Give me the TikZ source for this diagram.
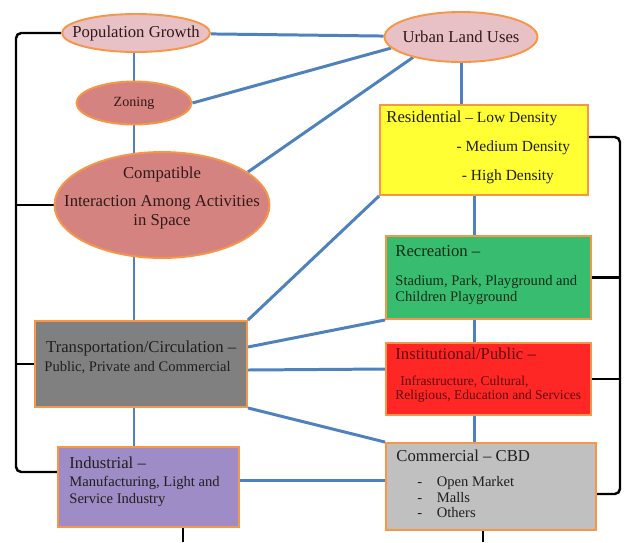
\documentclass[tikz,border=0pt]{standalone}
\usepackage{fontspec}
\setmainfont{Liberation Serif}
\usetikzlibrary{shapes.geometric,backgrounds}

\definecolor{edge}{RGB}{247,150,70}
\definecolor{link}{RGB}{79,129,189}
\definecolor{ovallight}{RGB}{231,193,197}
\definecolor{ovaldark}{RGB}{213,131,129}
\definecolor{resfill}{RGB}{255,255,51}
\definecolor{recfill}{RGB}{56,188,112}
\definecolor{insfill}{RGB}{255,38,38}
\definecolor{trafill}{RGB}{128,128,128}
\definecolor{comfill}{RGB}{192,192,192}
\definecolor{indfill}{RGB}{158,140,198}
\definecolor{inkdark}{RGB}{50,25,25}
\definecolor{inkred}{RGB}{95,10,10}
\definecolor{inkgreen}{RGB}{15,45,25}

\newcommand{\hdfont}{\fontsize{9.5}{9.1}\selectfont}

\tikzset{
  oval/.style={ellipse, draw=edge, line width=1.1pt, inner sep=0pt},
  panel/.style={rectangle, draw=edge, line width=1.1pt, inner sep=0pt},
  words/.style={inner sep=0pt, anchor=north west, align=left, text=black!88,
    font=\fontsize{8.3}{9.1}\selectfont},
  ovaltext/.style={text=inkdark, font=\fontsize{9.5}{11}\selectfont},
  link/.style={draw=link, line width=1.7pt},
  rail/.style={draw=black, line width=1.4pt, rounded corners=3pt},
}

\begin{document}
\begin{tikzpicture}[x=0.02cm, y=-0.02cm]
  \useasboundingbox (0,0) rectangle (625,542);

  \node[oval, fill=ovallight, minimum width=2.96cm, minimum height=0.76cm,
    label={[ovaltext]center:Population Growth}] (pop) at (136,33) {};
  \node[oval, fill=ovallight, minimum width=3.06cm, minimum height=1cm,
    label={[ovaltext]center:Urban Land Uses}] (urb) at (461,37) {};
  \node[oval, fill=ovaldark, minimum width=2.3cm, minimum height=0.86cm,
    label={[ovaltext, font=\fontsize{8}{9}\selectfont]center:Zoning}] (zon) at (134,103) {};
  \node[oval, fill=ovaldark, minimum width=4.3cm, minimum height=2.12cm] (cmp) at (162,205) {};
  \node[ovaltext, inner sep=0pt, align=center, font=\fontsize{9.5}{10.8}\selectfont]
    (cmp-t) at ([shift={(0,-7)}]cmp.center) {Compatible\\[5.1pt]Interaction Among Activities\\in Space};

  \node[panel, fill=resfill, minimum width=4.16cm, minimum height=1.8cm] (res) at (484,150) {};
  \node[panel, fill=recfill, minimum width=4.1cm, minimum height=1.66cm] (rec) at (488.5,277.5) {};
  \node[panel, fill=insfill, minimum width=4.1cm, minimum height=1.44cm] (ins) at (488.5,379) {};
  \node[panel, fill=comfill, minimum width=4.2cm, minimum height=1.74cm] (com) at (491,486.5) {};
  \node[panel, fill=trafill, minimum width=4.24cm, minimum height=1.72cm] (tra) at (141,364) {};
  \node[panel, fill=indfill, minimum width=3.62cm, minimum height=1.6cm] (ind) at (148.5,487) {};

  \node[words, font=\fontsize{8.8}{9.2}\selectfont] (res-t) at ([shift={(7,7)}]res.north west)
    {{\hdfont Residential} -- Low Density\\[7.2pt]\hspace*{40pt}- Medium Density\\[7pt]\hspace*{43pt}- High Density};
  \node[words, text=inkgreen] (rec-t) at ([shift={(10,10)}]rec.north west)
    {{\hdfont Recreation --}\\[7.3pt]Stadium, Park, Playground and\\Children Playground};
  \node[words, text=inkred, font=\fontsize{7.7}{8}\selectfont] (ins-t) at ([shift={(10,6)}]ins.north west)
    {{\hdfont Institutional/Public --}\\[6.7pt]\hspace*{2.8pt}Infrastructure, Cultural,\\Religious, Education and Services};
  \node[words, font=\fontsize{8.3}{8.8}\selectfont] (com-t) at ([shift={(11,8)}]com.north west)
    {{\hdfont Commercial -- CBD}\\[5.4pt]\hspace*{12pt}\makebox[11pt][l]{-}Open Market\\
     \hspace*{12pt}\makebox[11pt][l]{-}Malls\\\hspace*{12pt}\makebox[11pt][l]{-}Others};
  \node[words] (tra-t) at ([shift={(10,21)}]tra.north west)
    {\hspace*{1pt}{\hdfont Transportation/Circulation --}\\[1.7pt]Public, Private and Commercial};
  \node[words, font=\fontsize{8.3}{9.6}\selectfont] (ind-t) at ([shift={(12,11)}]ind.north west)
    {{\hdfont Industrial --}\\[0.6pt]Manufacturing, Light and\\Service Industry};

  \coordinate (lspine) at (134,0);
  \coordinate (rspine) at (474,0);
  \coordinate (lrail) at (16,0);
  \coordinate (rrail) at (620,0);
  \coordinate (indhook) at ([yshift=0.3cm]ind.west);
  \coordinate (comhook) at ([yshift=-0.15cm]com.east);
  \coordinate (reshook) at ([yshift=0.26cm]res.east);
  \coordinate (indtail) at (183,542);
  \coordinate (comtail) at (483,542);

  \begin{scope}[on background layer]
    \draw[link] (pop) -- (urb);
    \draw[link] (pop -| lspine) -- (zon -| lspine);
    \draw[link] (zon -| lspine) -- (cmp -| lspine);
    \draw[link] (cmp -| lspine) -- (tra -| lspine);
    \draw[link] (tra -| lspine) -- (ind -| lspine);
    \draw[link] (zon.east) -- (urb.189);
    \draw[link] (cmp.21) -- (urb.203);
    \draw[link] (urb) -- (urb |- res);
    \draw[link] (res -| rspine) -- (rec -| rspine);
    \draw[link] (rec -| rspine) -- (ins -| rspine);
    \draw[link] (ins -| rspine) -- (com -| rspine);
    \draw[link] (tra.north east) -- (res.south west);
    \draw[link] ([yshift=0.34cm]tra.east) -- (rec.south west);
    \draw[link] ([yshift=-0.12cm]tra.east) -- ([yshift=0.2cm]ins.west);
    \draw[link] (tra.south east) -- (com.north west);
    \draw[link] ([yshift=0.14cm]ind.east) -- ([yshift=0.14cm]ind.east -| com.west);

    \draw[rail] (pop.west) -| (indhook -| lrail) -- (indhook);
    \draw[rail] (cmp.west) -- (cmp.west -| lrail);
    \draw[rail] (tra.west) -- (tra.west -| lrail);
    \draw[rail] (reshook) -| (comhook -| rrail) -- (comhook);
    \draw[rail] (rec.east) -- (rec.east -| rrail);
    \draw[rail] (ins.east) -- (ins.east -| rrail);
    \draw[rail] (ind.south -| indtail) -- (indtail);
    \draw[rail] (com.south -| comtail) -- (comtail);
  \end{scope}
\end{tikzpicture}
\end{document}
